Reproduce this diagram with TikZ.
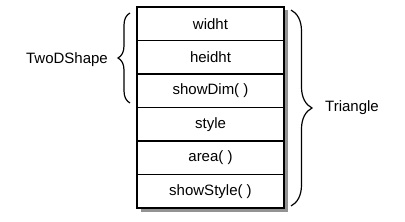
\documentclass[tikz,border=0pt]{standalone}
\usepackage{fontspec}
\setmainfont{Liberation Sans}
\usetikzlibrary{positioning, decorations.pathreplacing, backgrounds, calc}
\tikzset{
  field/.style  = {draw, line width=1.3pt, fill=white, minimum width=147pt,
                   minimum height=33.5pt, inner sep=0pt, outer sep=0pt},
  lbl/.style    = {inner sep=0pt},
  curly/.style  = {decorate, line width=1.2pt, decoration={brace, amplitude=#1}},
}

\begin{document}
\begin{tikzpicture}[
    x=1pt, y=-1pt,
    every node/.style={font=\fontsize{15}{18}\selectfont}
]
\useasboundingbox (0,0) rectangle (405,222);

% stacked fields of the object
\foreach \txt [count=\i from 0] in {widht, heidht, showDim( ), style, area( ), showStyle( )} {
    \node[field] (r\i) at (210.5,23.75+33.5*\i) {\txt};
}

% drop shadow
\begin{scope}[on background layer]
  \fill[gray!85] ($(r0.north west)+(3.5,3.5)$) rectangle ($(r5.south east)+(3.5,3.5)$);
\end{scope}

% brace ends
\coordinate (lb1) at (130,103);
\coordinate (lb2) at (130,13);
\coordinate (rb1) at (291,10);
\coordinate (rb2) at (291,206);

\draw[curly=12pt] (lb1) -- (lb2);
\draw[curly=21pt] (rb1) -- (rb2);

% class labels
\node[lbl, anchor=east] (twod) at (108,60) {TwoDShape};
\node[lbl, anchor=west] (tri) at (325,108) {Triangle};

\end{tikzpicture}
\end{document}
